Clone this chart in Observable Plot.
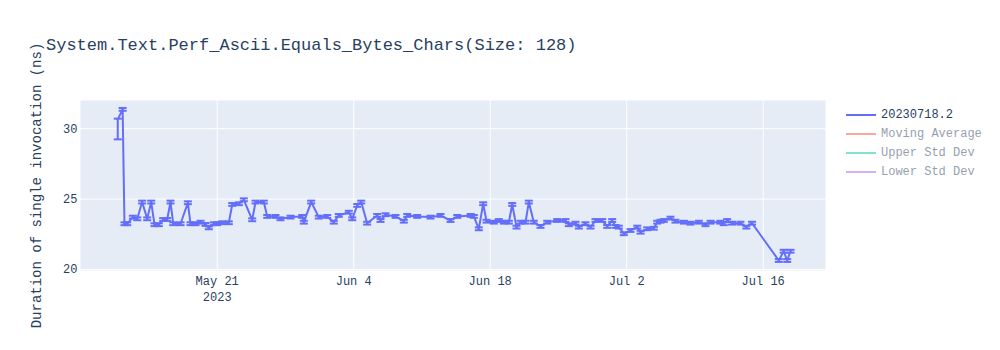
<!DOCTYPE html>
<html>
<head>
<meta charset="utf-8">
<script src="https://cdn.jsdelivr.net/npm/d3@7"></script>
<script src="https://cdn.jsdelivr.net/npm/@observablehq/plot@0.6"></script>
<style>
  html, body { margin: 0; padding: 0; background: white; }
  #wrap { position: relative; width: 1000px; height: 350px; font-family: "Liberation Mono", "DejaVu Sans Mono", monospace; color: #2a3f5f; }
  #title { position: absolute; left: 46px; top: 36px; font-size: 17px; white-space: pre; }
  #legend { position: absolute; left: 846px; top: 105px; font-size: 12px; }
  .row { display: flex; align-items: center; height: 19px; }
  .sw { width: 30px; height: 2px; margin-right: 5px; }
  .off { opacity: 0.5; }
  #chart { position: absolute; left: 0; top: 0; }
</style>
</head>
<body>
<div id="wrap">
  <div id="chart"></div>
  <div id="title"></div>
  <div id="legend"></div>
</div>
<script>
const titleText = "System.Text.Perf_Ascii.Equals_Bytes_Chars(Size: 128)";
const yLabel = "Duration of single invocation (ns)";

const dates = [
  "2023-05-10T19:12Z","2023-05-11T07:12Z","2023-05-11T11:46Z","2023-05-11T18:29Z","2023-05-12T08:24Z",
  "2023-05-12T19:12Z","2023-05-13T07:12Z","2023-05-13T19:41Z","2023-05-14T05:31Z","2023-05-14T13:41Z",
  "2023-05-15T00:14Z","2023-05-15T11:02Z","2023-05-15T20:53Z","2023-05-16T05:02Z","2023-05-16T11:46Z",
  "2023-05-17T05:46Z","2023-05-17T23:46Z","2023-05-18T06:14Z","2023-05-18T18:29Z","2023-05-19T06:58Z",
  "2023-05-19T19:12Z","2023-05-20T03:22Z","2023-05-20T15:36Z","2023-05-21T00:00Z","2023-05-21T12:14Z",
  "2023-05-22T04:34Z","2023-05-22T12:58Z","2023-05-23T05:17Z","2023-05-23T17:31Z","2023-05-24T14:10Z",
  "2023-05-24T22:19Z","2023-05-25T18:43Z","2023-05-26T03:07Z","2023-05-26T23:31Z","2023-05-27T11:46Z",
  "2023-05-28T12:29Z","2023-05-29T17:17Z","2023-05-29T21:07Z","2023-05-30T15:22Z","2023-05-31T10:05Z",
  "2023-06-01T06:43Z","2023-06-01T23:02Z","2023-06-02T11:17Z","2023-06-03T12:00Z","2023-06-03T20:24Z",
  "2023-06-04T08:38Z","2023-06-04T18:29Z","2023-06-05T09:07Z","2023-06-06T09:50Z","2023-06-06T18:00Z",
  "2023-06-07T06:14Z","2023-06-08T06:58Z","2023-06-09T03:22Z","2023-06-09T11:46Z","2023-06-10T12:14Z",
  "2023-06-11T21:07Z","2023-06-12T21:36Z","2023-06-13T22:19Z","2023-06-14T14:53Z","2023-06-16T00:00Z",
  "2023-06-16T07:41Z","2023-06-16T19:55Z","2023-06-17T06:43Z","2023-06-17T14:53Z","2023-06-18T08:53Z",
  "2023-06-18T21:07Z","2023-06-19T09:36Z","2023-06-19T21:50Z","2023-06-20T06:14Z","2023-06-20T16:48Z",
  "2023-06-21T02:38Z","2023-06-21T14:53Z","2023-06-21T23:02Z","2023-06-22T11:17Z","2023-06-23T03:50Z",
  "2023-06-23T20:24Z","2023-06-24T20:53Z","2023-06-25T17:17Z","2023-06-26T01:26Z","2023-06-26T18:00Z",
  "2023-06-27T02:10Z","2023-06-27T18:29Z","2023-06-28T06:58Z","2023-06-28T19:12Z","2023-06-29T11:46Z",
  "2023-06-30T00:00Z","2023-06-30T12:14Z","2023-06-30T20:24Z","2023-07-01T04:34Z","2023-07-01T16:48Z",
  "2023-07-02T09:22Z","2023-07-03T01:55Z","2023-07-03T10:05Z","2023-07-04T02:24Z","2023-07-04T18:43Z",
  "2023-07-05T03:07Z","2023-07-05T11:17Z","2023-07-05T19:12Z","2023-07-06T11:46Z","2023-07-07T00:00Z",
  "2023-07-07T20:38Z","2023-07-08T12:58Z","2023-07-09T09:36Z","2023-07-10T01:55Z","2023-07-10T14:24Z",
  "2023-07-11T14:24Z","2023-07-11T22:48Z","2023-07-12T07:12Z","2023-07-12T19:12Z","2023-07-13T15:50Z",
  "2023-07-14T06:29Z","2023-07-14T20:24Z","2023-07-17T14:24Z","2023-07-18T02:24Z","2023-07-18T11:02Z",
  "2023-07-18T19:12Z"
];

const values = [
  30.66,31.37,23.25,23.25,23.72, 23.60,24.79,23.60,24.79,23.18,
  23.18,23.55,23.55,24.79,23.25, 23.25,24.74,23.25,23.25,23.36,
  23.20,22.96,23.25,23.25,23.32, 23.32,24.62,24.67,24.95,23.53,
  24.79,24.79,23.77,23.77,23.60, 23.72,23.77,23.36,24.79,23.72,
  23.77,23.36,23.84,24.07,23.60, 24.55,24.79,23.29,23.84,23.48,
  23.89,23.77,23.43,23.84,23.77, 23.72,23.84,23.48,23.77,23.84,
  23.77,22.89,24.67,23.43,23.36, 23.48,23.36,23.36,24.62,23.01,
  23.36,23.36,24.79,23.36,23.06, 23.36,23.48,23.48,23.18,23.29,
  23.01,23.25,23.01,23.48,23.48, 23.06,23.48,23.06,23.01,22.54,
  22.77,23.01,22.65,22.89,22.93, 23.36,23.43,23.48,23.65,23.43,
  23.36,23.29,23.36,23.18,23.36, 23.36,23.25,23.48,23.29,23.29,
  23.01,23.29,20.64,21.30,20.64, 21.30
];

// error bar extents (minus / plus) per point
const errMinus = values.map((v, i) => i === 0 ? 1.42 : 0.1);
const errPlus  = values.map((v, i) => i === 0 ? 0.05 : 0.1);

const xTicks = ["2023-05-21T00:00Z","2023-06-04T00:00Z","2023-06-18T00:00Z","2023-07-02T00:00Z","2023-07-16T00:00Z"];
const xTickLabels = ["May 21\n2023","Jun 4","Jun 18","Jul 2","Jul 16"];
const yTicks = [20, 25, 30];
const xDomain = ["2023-05-06T23:30Z","2023-07-22T09:20Z"];
const yDomain = [19.93, 32.0];

const legendItems = [
  {name: "20230718.2", color: "#636efa", active: true},
  {name: "Moving Average", color: "#EF553B", active: false},
  {name: "Upper Std Dev", color: "#00cc96", active: false},
  {name: "Lower Std Dev", color: "#ab63fa", active: false}
];

const data = dates.map((d, i) => ({
  date: new Date(d),
  value: values[i],
  lo: values[i] - errMinus[i],
  hi: values[i] + errPlus[i]
}));

const tickDates = xTicks.map(d => new Date(d));
const labelOf = new Map(tickDates.map((d, i) => [+d, xTickLabels[i]]));

const hline = {
  draw(ctx, size) {
    const w = Math.sqrt(size / Math.PI);
    ctx.moveTo(-w, 0);
    ctx.lineTo(w, 0);
  }
};

const color = "#636efa";
const font = "Liberation Mono, DejaVu Sans Mono, monospace";

const chart = Plot.plot({
  width: 1000,
  height: 350,
  marginLeft: 80,
  marginRight: 175,
  marginTop: 100,
  marginBottom: 80,
  style: {fontFamily: font, fontSize: "12px", color: "#2a3f5f", background: "transparent"},
  x: {type: "utc", domain: xDomain.map(d => new Date(d))},
  y: {domain: yDomain},
  marks: [
    Plot.frame({fill: "#E5ECF6", stroke: null}),
    Plot.gridX(tickDates, {stroke: "white", strokeOpacity: 1, strokeWidth: 1}),
    Plot.gridY(yTicks, {stroke: "white", strokeOpacity: 1, strokeWidth: 1}),
    Plot.ruleX(data, {x: "date", y1: "lo", y2: "hi", stroke: color, strokeWidth: 2}),
    Plot.dot(data, {x: "date", y: "lo", symbol: hline, r: 4, stroke: color, strokeWidth: 2, fill: "none"}),
    Plot.dot(data, {x: "date", y: "hi", symbol: hline, r: 4, stroke: color, strokeWidth: 2, fill: "none"}),
    Plot.line(data, {x: "date", y: "value", stroke: color, strokeWidth: 2}),
    Plot.axisX({ticks: tickDates, tickSize: 0, tickPadding: 3, lineHeight: 1.35, tickFormat: d => labelOf.get(+d), label: null, fontSize: 12}),
    Plot.axisY({ticks: yTicks, tickSize: 0, tickPadding: 3, label: null, fontSize: 12}),
    Plot.text([yLabel], {frameAnchor: "left", text: d => d, rotate: -90, textAnchor: "middle", dx: -44, fontSize: 14, fill: "#2a3f5f"})
  ]
});
document.getElementById("chart").appendChild(chart);

document.getElementById("title").textContent = titleText;
const legend = document.getElementById("legend");
for (const item of legendItems) {
  const row = document.createElement("div");
  row.className = "row" + (item.active ? "" : " off");
  const sw = document.createElement("div");
  sw.className = "sw";
  sw.style.background = item.color;
  const tx = document.createElement("span");
  tx.textContent = item.name;
  row.appendChild(sw);
  row.appendChild(tx);
  legend.appendChild(row);
}
</script>
</body>
</html>
